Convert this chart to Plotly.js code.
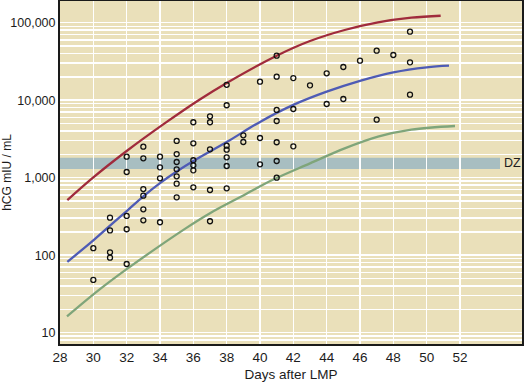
<!DOCTYPE html>
<html>
<head>
<meta charset="utf-8">
<script src="https://cdn.plot.ly/plotly-3.0.1.min.js"></script>
<style>
  html, body { margin: 0; padding: 0; background: #ffffff; }
  #chart { width: 524px; height: 382px; }
</style>
</head>
<body>
<div id="chart"></div>
<script>
// ---- Data ----
const xTickValues = [28, 30, 32, 34, 36, 38, 40, 42, 44, 46, 48, 50, 52];
const xTickLabels = ["28", "30", "32", "34", "36", "38", "40", "42", "44", "46", "48", "50", "52"];
const yDecades = [10, 100, 1000, 10000, 100000];
const yDecadeLabels = ["10", "100", "1,000", "10,000", "100,000"];

// Individual observations (days after LMP, hCG mIU/mL)
const obsDays = [
  30, 30,
  31, 31, 31, 31,
  32, 32, 32, 32, 32,
  33, 33, 33, 33, 33, 33,
  34, 34, 34, 34,
  35, 35, 35, 35, 35, 35, 35,
  36, 36, 36, 36, 36, 36,
  37, 37, 37, 37, 37,
  38, 38, 38, 38, 38, 38, 38,
  39, 39,
  40, 40, 40,
  41, 41, 41, 41, 41, 41, 41,
  42, 42, 42,
  43,
  44, 44,
  45, 45,
  46,
  47, 47,
  48,
  49, 49, 49
];
const obsHcg = [
  123, 48,
  305, 209, 109, 93,
  1866, 1185, 321, 216, 77,
  2512, 1780, 714, 586, 391, 282,
  1866, 1361, 982, 266,
  2980, 2020, 1595, 1283, 1042, 837, 558,
  5190, 2780, 1678, 1445, 1245, 752,
  6200, 5190, 2323, 694, 274,
  15800, 8600, 2588, 2296, 1833, 1416, 730,
  3525, 2888,
  17330, 3250, 1489,
  37500, 20100, 7480, 5390, 2865, 1642, 1000,
  19300, 7700, 2540,
  15560,
  22230, 8930,
  26800, 10360,
  32350,
  43500, 5600,
  38300,
  76500, 30800, 11780
];

// Upper curve (red)
const upperDays = [28.44, 30, 32, 34.34, 36.34, 38, 41, 43, 45.08, 47.08, 49.08, 50.84];
const upperHcg  = [515, 1010, 2210, 5130, 10070, 16700, 37500, 58000, 80500, 101000, 116000, 123000];

// Middle curve (blue)
const meanDays = [28.44, 30, 31, 32, 33, 34, 35, 36, 38, 40, 42, 44, 46, 48, 50, 51.34];
const meanHcg  = [82, 155, 240, 370, 575, 850, 1200, 1640, 2880, 5250, 8700, 12900, 17800, 22900, 26600, 27900];

// Lower curve (green)
const lowerDays = [28.42, 30.34, 32, 35.54, 37, 39, 40.74, 43, 45.08, 47.08, 49.08, 51.7];
const lowerHcg  = [16.2, 35.6, 66, 222, 348, 590, 933, 1530, 2393, 3390, 4170, 4645];

// Discriminatory zone band
const dzLabel = "DZ";
const dzLow = 1295;
const dzHigh = 1811;
const dzDayStart = 28;
const dzDayEnd = 54.4;

// ---- Styling ----
const bg = "#EAE0BA";
const bandColor = "#A8BEC1";
const redColor = "#A02B3C";
const blueColor = "#4E5BB5";
const greenColor = "#7FA57A";
const textColor = "#1c1c1c";
const fontFamily = "'Liberation Sans', Arial, Helvetica, sans-serif";

// gridlines at every 1..9 multiple of each decade (log minor grid)
const yGridVals = [];
const yGridText = [];
[1, 10, 100, 1000, 10000, 100000].forEach(function (dec) {
  for (let m = 1; m <= 9; m++) {
    const v = dec * m;
    if (v < 7 || v > 190000) continue;
    yGridVals.push(v);
    const idx = yDecades.indexOf(v);
    yGridText.push(idx >= 0 ? yDecadeLabels[idx] : "");
  }
});

const curveLine = function (c) { return { color: c, width: 2.3, shape: "spline", smoothing: 1 }; };

const traces = [
  { x: upperDays, y: upperHcg, mode: "lines", line: curveLine(redColor), hoverinfo: "skip", showlegend: false },
  { x: meanDays, y: meanHcg, mode: "lines", line: curveLine(blueColor), hoverinfo: "skip", showlegend: false },
  { x: lowerDays, y: lowerHcg, mode: "lines", line: curveLine(greenColor), hoverinfo: "skip", showlegend: false },
  {
    x: obsDays, y: obsHcg, mode: "markers", showlegend: false, hoverinfo: "skip",
    marker: { symbol: "circle-open", size: 5, color: "#111111", line: { width: 1.3, color: "#111111" } }
  }
];

const layout = {
  width: 524,
  height: 382,
  margin: { l: 60, r: 2, t: 1, b: 38 },
  paper_bgcolor: "#ffffff",
  plot_bgcolor: bg,
  font: { family: fontFamily, color: textColor, size: 12 },
  showlegend: false,
  xaxis: {
    range: [28, 55.72],
    tickmode: "array",
    tickvals: xTickValues,
    ticktext: xTickLabels,
    ticks: "",
    tickfont: { size: 13.5, color: textColor },
    showgrid: true,
    gridcolor: "#ffffff",
    gridwidth: 1.5,
    zeroline: false,
    showline: true,
    mirror: true,
    linecolor: "#1a1a1a",
    linewidth: 2,
    title: { text: "Days after LMP", font: { size: 13.5, color: textColor }, standoff: 8 },
    automargin: false
  },
  yaxis: {
    type: "log",
    range: [0.854, 5.28],
    tickmode: "array",
    tickvals: yGridVals,
    ticktext: yGridText,
    ticks: "",
    tickfont: { size: 12.5, color: textColor },
    showgrid: true,
    gridcolor: "#ffffff",
    gridwidth: 1.5,
    zeroline: false,
    showline: true,
    mirror: true,
    linecolor: "#1a1a1a",
    linewidth: 2,
    title: { text: "hCG mIU / mL", font: { size: 12, color: textColor }, standoff: 7 },
    automargin: false
  },
  shapes: [
    {
      type: "rect", xref: "x", yref: "y",
      x0: dzDayStart, x1: dzDayEnd, y0: dzLow, y1: dzHigh,
      fillcolor: bandColor, line: { width: 0 }, layer: "below"
    }
  ],
  annotations: [
    {
      text: dzLabel, xref: "x", yref: "y",
      x: dzDayEnd + 0.12, y: Math.log10(Math.sqrt(dzLow * dzHigh)),
      xanchor: "left", yanchor: "middle", showarrow: false,
      font: { size: 12.5, color: textColor }
    }
  ]
};

Plotly.newPlot("chart", traces, layout, { staticPlot: true, displayModeBar: false });
</script>
</body>
</html>
